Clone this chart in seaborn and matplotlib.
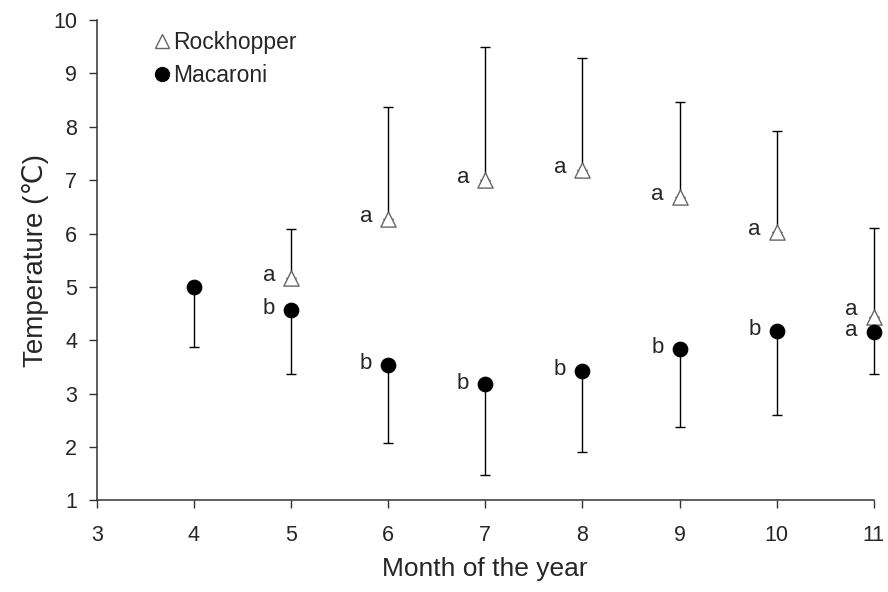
import numpy as np
import pandas as pd
import matplotlib
matplotlib.use("Agg")
import matplotlib.pyplot as plt
import seaborn as sns
from matplotlib.lines import Line2D

# values
rock_month = [5, 6, 7, 8, 9, 10, 11]
rock_temp = [5.16, 6.27, 7.00, 7.19, 6.68, 6.02, 4.44]
rock_upper = [6.08, 8.37, 9.49, 9.29, 8.46, 7.92, 6.11]
rock_letters = ["a", "a", "a", "a", "a", "a", "a"]

mac_month = [4, 5, 6, 7, 8, 9, 10, 11]
mac_temp = [4.99, 4.56, 3.54, 3.17, 3.43, 3.83, 4.18, 4.16]
mac_lower = [3.87, 3.36, 2.07, 1.48, 1.90, 2.37, 2.59, 3.36]
mac_letters = ["", "b", "b", "b", "b", "b", "b", "a"]

x_ticks = [3, 4, 5, 6, 7, 8, 9, 10, 11]
y_ticks = [1, 2, 3, 4, 5, 6, 7, 8, 9, 10]

df = pd.concat([
    pd.DataFrame({"month": rock_month, "temp": rock_temp, "species": "Rockhopper"}),
    pd.DataFrame({"month": mac_month, "temp": mac_temp, "species": "Macaroni"}),
])

sns.set_style("ticks")
plt.rcParams["font.family"] = ["Liberation Sans", "DejaVu Sans"]

fig, ax = plt.subplots(figsize=(8.88, 5.92), dpi=100)
fig.subplots_adjust(left=0.109, right=0.984, bottom=0.155, top=0.966)

# one-sided error bars
rock_err = np.array(rock_upper) - np.array(rock_temp)
mac_err = np.array(mac_temp) - np.array(mac_lower)
for eb in [
    ax.errorbar(rock_month, rock_temp, yerr=[np.zeros_like(rock_err), rock_err],
                fmt="none", ecolor="black", elinewidth=1.0, capsize=3.8, capthick=1.0, zorder=1),
    ax.errorbar(mac_month, mac_temp, yerr=[mac_err, np.zeros_like(mac_err)],
                fmt="none", ecolor="black", elinewidth=1.0, capsize=3.8, capthick=1.0, zorder=1),
]:
    for child in eb.get_children():
        child.set_clip_on(False)

sns.scatterplot(data=df[df.species == "Rockhopper"], x="month", y="temp", ax=ax,
                marker="^", s=120, facecolor="white", edgecolor="#666666",
                linewidth=1.0, zorder=3, legend=False, clip_on=False)
sns.scatterplot(data=df[df.species == "Macaroni"], x="month", y="temp", ax=ax,
                marker="o", s=110, color="black", edgecolor="black",
                zorder=3, legend=False, clip_on=False)

for m, t, lab in zip(rock_month, rock_temp, rock_letters):
    dy = 5 if m == 11 else 2
    ax.annotate(lab, (m, t), xytext=(-16, dy), textcoords="offset points",
                ha="center", va="center", fontsize=16)
for m, t, lab in zip(mac_month, mac_temp, mac_letters):
    if lab:
        ax.annotate(lab, (m, t), xytext=(-16, 1), textcoords="offset points",
                    ha="center", va="center", fontsize=16)

ax.set_xlim(3, 11)
ax.set_ylim(1, 10)
ax.set_xticks(x_ticks)
ax.set_yticks(y_ticks)
ax.tick_params(axis="both", direction="out", length=6, width=1, labelsize=15.5,
               color="#333333")
ax.tick_params(axis="x", pad=12)
ax.tick_params(axis="y", pad=8)
for s in ["left", "bottom"]:
    ax.spines[s].set_color("#333333")
    ax.spines[s].set_linewidth(1.1)
ax.spines["top"].set_visible(False)
ax.spines["right"].set_visible(False)
for sp in ax.spines.values():
    sp.set_clip_on(False)

ax.set_xlabel("Month of the year", fontsize=19, labelpad=8)
ax.set_ylabel("Temperature (\u2103)", fontsize=20, labelpad=3)

handles = [
    Line2D([], [], marker="^", linestyle="none", markersize=10,
           markerfacecolor="white", markeredgecolor="#666666"),
    Line2D([], [], marker="o", linestyle="none", markersize=10,
           markerfacecolor="black", markeredgecolor="black"),
]
ax.legend(handles, ["Rockhopper", "Macaroni"], loc="upper left",
          bbox_to_anchor=(0.047, 1.02), frameon=False, fontsize=16.5,
          handlelength=0.7, handletextpad=0.15, labelspacing=0.45)

fig.savefig("out.png", dpi=100)
